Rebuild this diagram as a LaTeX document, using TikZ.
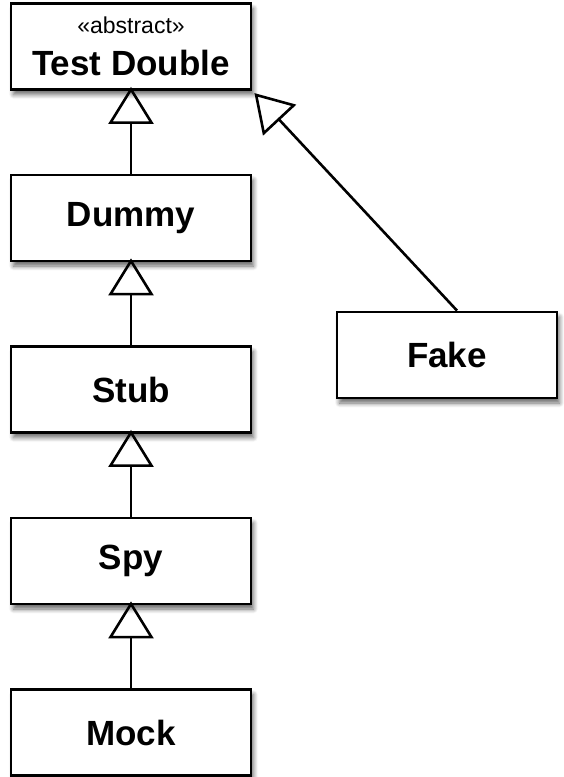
\documentclass[tikz,border=0pt]{standalone}
\usepackage{fontspec}
\setmainfont{Liberation Sans}
\usetikzlibrary{arrows.meta,shadows.blur,calc}
\tikzset{
  classbox/.style={draw=black, line width=2.8pt, fill=white,
    minimum width=240pt, minimum height=86pt, inner sep=0pt,
    font=\fontsize{35}{40}\selectfont\bfseries,
    blur shadow={shadow xshift=2.5pt, shadow yshift=-5pt,
      shadow blur radius=4.5pt, shadow blur steps=8, shadow opacity=60}},
  inherits/.style={draw=black, line width=2.6pt,
    -{Triangle[open, length=37pt, width=45pt, line width=2.6pt]}}
}
\begin{document}
\begin{tikzpicture}[x=1pt, y=-1pt]
  \useasboundingbox (0,0) rectangle (564,777);

  % class boxes
  \node[classbox] (td) at (131,46.5) {};
  \node[font=\fontsize{23}{27}\selectfont] (tdst) at (131,25) {«abstract»};
  \node[font=\fontsize{35}{40}\selectfont\bfseries] (tdname) at (131,63) {Test Double};
  \node[classbox] (dummy) at (131,218) {Dummy};
  \node[classbox] (stub)  at (131,389.5) {Stub};
  \node[classbox] (spy)   at (131,561) {Spy};
  \node[classbox] (mock)  at (131,732.5) {Mock};
  \node[classbox, minimum width=220pt] (fake) at (447,355) {Fake};

  % generalisation arrows
  \draw[inherits] (dummy.north) -- ([yshift=4pt]td.south);
  \draw[inherits] (stub.north)  -- ([yshift=4pt]dummy.south);
  \draw[inherits] (spy.north)   -- ([yshift=4pt]stub.south);
  \draw[inherits] (mock.north)  -- ([yshift=4pt]spy.south);
  \coordinate (fakeout) at ($(fake.north west)!0.545!(fake.north east)$);
  \draw[inherits, shorten >=3pt] (fakeout) -- (td.south east);
\end{tikzpicture}
\end{document}
